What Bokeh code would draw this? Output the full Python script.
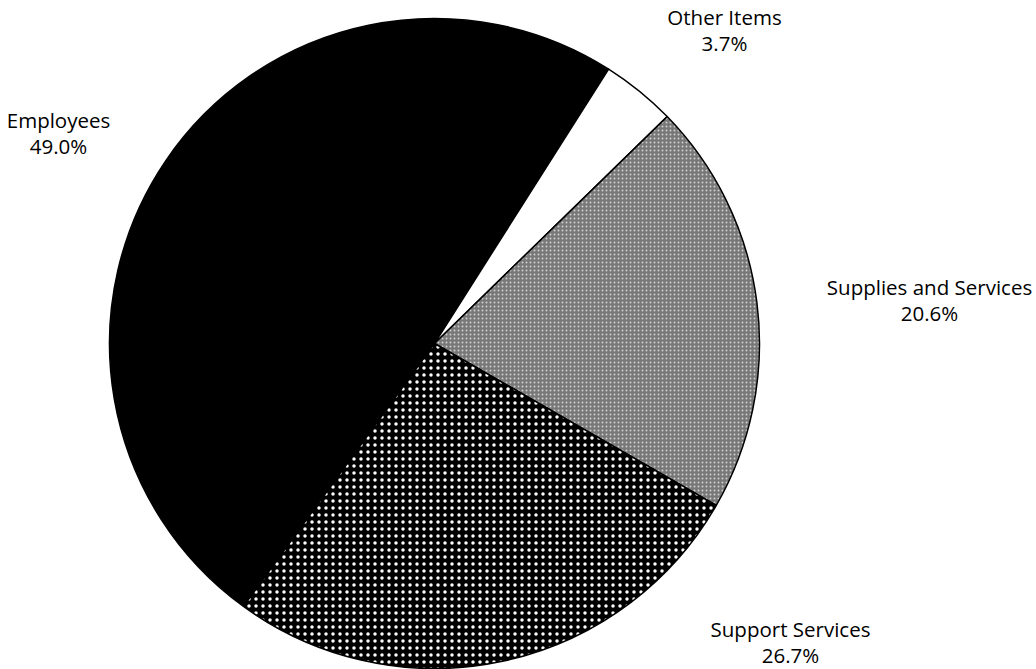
import math
from bokeh.plotting import figure
from bokeh.models import ColumnDataSource, Range1d
from bokeh.core.properties import value
from bokeh.embed import file_html
from bokeh.resources import INLINE

# ---- data (clockwise order) ----
categories = ["Employees", "Other Items", "Supplies and Services", "Support Services"]
shares = [49.0, 3.7, 20.6, 26.7]

# ---- style / layout ----
W, H = 1036, 669
first_slice_deg = 216.0          # clockwise from 12 o'clock
cx, cy_page, R = 434.0, 343.0, 325.0
fills = ["black", "white", "#777777", "black"]
hatches = [" ", " ", ".", "."]
hatch_colors = ["white", "white", "#d0d0d0", "white"]
hatch_scales = [6, 6, 4, 7]
# label anchor points (page pixel coordinates of the label centre)
label_pos = [(58, 132), (724, 29), (929, 299), (790, 641)]
line_gap = 26
font = "Open Sans"
font_size = "20.5px"

start_cw, end_cw = [], []
acc = first_slice_deg
for s in shares:
    start_cw.append(acc)
    acc += s / sum(shares) * 360.0
    end_cw.append(acc)

src = ColumnDataSource(dict(
    cat=categories,
    start=[math.radians(90 - e) for e in end_cw],
    end=[math.radians(90 - s) for s in start_cw],
))

p = figure(width=W, height=H, output_backend="svg", toolbar_location=None,
           x_range=Range1d(0, W), y_range=Range1d(0, H), min_border=0)
p.axis.visible = False
p.grid.visible = False
p.outline_line_color = None
p.background_fill_color = "white"
p.border_fill_color = "white"

cy = H - cy_page
for i in range(len(categories)):
    p.wedge(x=cx, y=cy, radius=R,
            start_angle=src.data["start"][i], end_angle=src.data["end"][i],
            fill_color=fills[i], line_color="black", line_width=1.5,
            hatch_pattern=hatches[i], hatch_color=hatch_colors[i],
            hatch_scale=hatch_scales[i], hatch_weight=1.0)

names, pcts, lx, ly1, ly2 = [], [], [], [], []
for i, c in enumerate(categories):
    px, py = label_pos[i]
    names.append(c)
    pcts.append(f"{shares[i]:.1f}%")
    lx.append(px)
    ly1.append(H - py + line_gap / 2)
    ly2.append(H - py - line_gap / 2)

p.text(x=lx, y=ly1, text=names, text_font=value(font), text_font_size=font_size,
       text_align="center", text_baseline="middle", text_color="black")
p.text(x=lx, y=ly2, text=pcts, text_font=value(font), text_font_size=font_size,
       text_align="center", text_baseline="middle", text_color="black")

open("out.html", "w").write(file_html(p, INLINE))
